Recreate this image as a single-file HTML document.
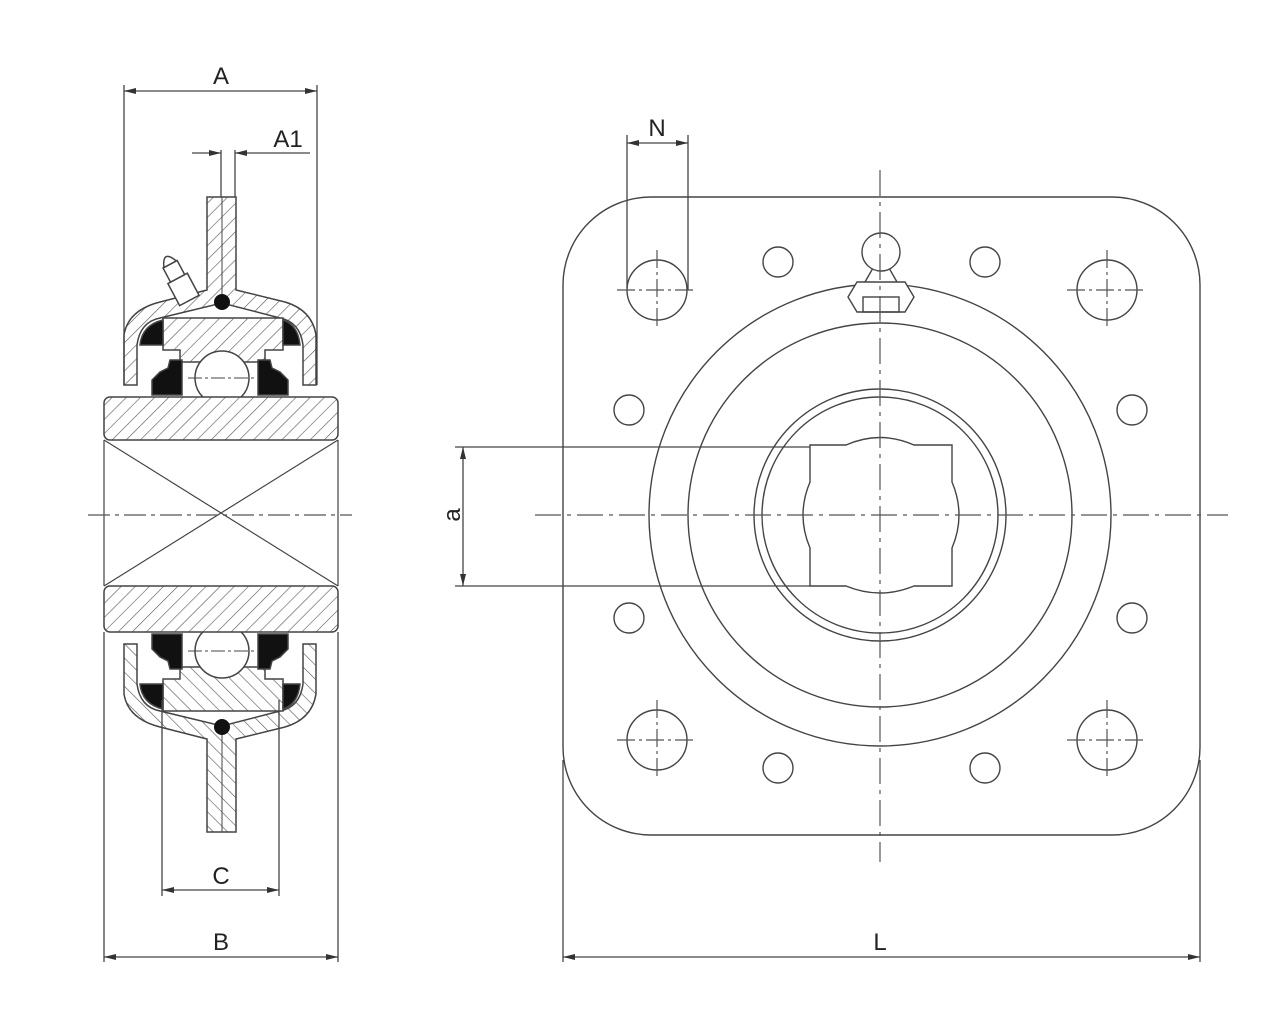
<!DOCTYPE html>
<html><head><meta charset="utf-8"><style>
html,body{margin:0;padding:0;background:#fff;}
svg{display:block}
text{font-family:"Liberation Sans",sans-serif;font-size:24px;fill:#222}
</style></head><body>
<svg width="1280" height="1024" viewBox="0 0 1280 1024" xmlns="http://www.w3.org/2000/svg">
<defs>
<pattern id="h" patternUnits="userSpaceOnUse" width="10" height="10" patternTransform="rotate(45)">
<rect width="10" height="10" fill="#fff"/><line x1="0" y1="0" x2="0" y2="10" stroke="#555" stroke-width="1.2"/>
</pattern>
<marker id="ar" markerWidth="12" markerHeight="6" refX="12" refY="3" orient="auto" markerUnits="userSpaceOnUse">
<path d="M0,0 L12,3 L0,6 Z" fill="#333"/></marker>
<g id="half" stroke="#444" stroke-width="1.5">
<path fill="url(#h)" fill-rule="evenodd" d="M124,385 L124,335 Q128,310 160,302 L207,290 L207,197 L236,197 L236,290 L285,302 Q312,310 316,335 L316,385 L303,385 L303,345 Q300,322 280,318 L222,303 L160,318 Q140,322 137,345 L137,385 Z"/>
<line x1="222" y1="197" x2="222" y2="300" stroke-width="1"/>
<path fill="url(#h)" d="M163,318 L283,318 L283,350 L265,350 L265,362 L180,362 L180,350 L163,350 Z"/>
<path fill="#111" d="M140,345 Q142,325 163,320 L163,345 Z"/>
<path fill="#111" d="M300,345 Q298,325 283,320 L283,345 Z"/>
<path fill="#111" d="M152,395 L152,380 L160,372 L168,368 L170,360 L182,360 L182,395 Z"/>
<path fill="#111" d="M288,395 L288,380 L280,372 L272,368 L270,360 L258,360 L258,395 Z"/>
<circle cx="222" cy="378" r="27" fill="#fff"/>
<line x1="188" y1="378" x2="256" y2="378" stroke-width="1" stroke-dasharray="14,3,3,3"/>
<circle cx="222" cy="302" r="8" fill="#111" stroke="none"/>
</g>
</defs>

<use href="#half"/>
<use href="#half" transform="translate(0,1029) scale(1,-1)"/>
<g stroke="#444" stroke-width="1.5" fill="#fff" transform="rotate(-28 180 285)">
<rect x="170" y="278" width="22" height="25"/>
<rect x="173" y="262" width="16" height="16"/>
<path d="M174,262 Q181,245 188,262 Z"/>
</g>
<rect x="104" y="397" width="234" height="43" rx="6" fill="url(#h)" stroke="#444" stroke-width="1.5"/>
<rect x="104" y="586" width="234" height="46" rx="6" fill="url(#h)" stroke="#444" stroke-width="1.5"/>
<g stroke="#444" stroke-width="1.2" fill="none">
<line x1="104" y1="440" x2="104" y2="586"/><line x1="338" y1="440" x2="338" y2="586"/>
<line x1="104" y1="440" x2="338" y2="586"/><line x1="338" y1="440" x2="104" y2="586"/>
</g>
<line x1="88" y1="515" x2="352" y2="515" stroke="#555" stroke-width="1.2" stroke-dasharray="22,5,4,5"/>

<g stroke="#444" stroke-width="1.3" fill="none">
<line x1="124" y1="85" x2="124" y2="385"/><line x1="317" y1="85" x2="317" y2="385"/>
<line x1="221" y1="150" x2="221" y2="197"/><line x1="235" y1="150" x2="235" y2="197"/>
<line x1="192" y1="153" x2="221" y2="153" marker-end="url(#ar)"/>
<line x1="310" y1="153" x2="235" y2="153" marker-end="url(#ar)"/>
<line x1="104" y1="632" x2="104" y2="962"/><line x1="338" y1="632" x2="338" y2="962"/>
<line x1="221" y1="957" x2="104" y2="957" marker-end="url(#ar)"/><line x1="221" y1="957" x2="338" y2="957" marker-end="url(#ar)"/>
<line x1="162" y1="700" x2="162" y2="896"/><line x1="279" y1="700" x2="279" y2="896"/>
<line x1="221" y1="890" x2="162" y2="890" marker-end="url(#ar)"/><line x1="221" y1="890" x2="279" y2="890" marker-end="url(#ar)"/>
<line x1="221" y1="91" x2="124" y2="91" marker-end="url(#ar)"/><line x1="221" y1="91" x2="317" y2="91" marker-end="url(#ar)"/>
</g>
<text x="221" y="84" text-anchor="middle">A</text>
<text x="288" y="147" text-anchor="middle">A1</text>
<text x="221" y="884" text-anchor="middle">C</text>
<text x="221" y="950" text-anchor="middle">B</text>

<g stroke="#444" stroke-width="1.4" fill="none">
<rect x="563" y="197" width="637" height="638" rx="88"/>
<circle cx="880" cy="515" r="231"/>
<circle cx="880" cy="515" r="192"/>
<circle cx="880" cy="515" r="126"/>
<circle cx="880" cy="515" r="118"/>
<path d="M810,445 L846,445 Q880,430 914,445 L952,445 L952,482 Q966,515 952,548 L952,586 L914,586 Q880,600 846,586 L810,586 L810,548 Q796,515 810,482 Z"/>
<path d="M848,297 L857,282 L905,282 L914,297 L905,312 L857,312 Z" fill="#fff"/>
<rect x="863" y="297" width="36" height="15"/>
<line x1="865" y1="282" x2="873" y2="268"/><line x1="897" y1="282" x2="889" y2="268"/>
<circle cx="881" cy="252" r="19" fill="#fff"/>
<circle cx="778" cy="262" r="15"/><circle cx="985" cy="262" r="15"/>
<circle cx="629" cy="410" r="15"/><circle cx="1132" cy="410" r="15"/>
<circle cx="629" cy="618" r="15"/><circle cx="1132" cy="618" r="15"/>
<circle cx="778" cy="768" r="15"/><circle cx="985" cy="768" r="15"/>
<circle cx="657" cy="290" r="30"/><circle cx="1107" cy="290" r="30"/>
<circle cx="657" cy="740" r="30"/><circle cx="1107" cy="740" r="30"/>
</g>
<g stroke="#555" stroke-width="1.2" stroke-dasharray="18,4,3,4">
<path d="M617,290h80M657,250v80M1067,290h80M1107,250v80M617,740h80M657,700v80M1067,740h80M1107,700v80"/>
</g>
<line x1="535" y1="515" x2="1228" y2="515" stroke="#555" stroke-width="1.2" stroke-dasharray="26,6,4,6"/>
<line x1="880" y1="170" x2="880" y2="862" stroke="#555" stroke-width="1.2" stroke-dasharray="26,6,4,6"/>

<g stroke="#444" stroke-width="1.3" fill="none">
<line x1="627" y1="135" x2="627" y2="288"/><line x1="688" y1="135" x2="688" y2="290"/>
<line x1="657" y1="143" x2="627" y2="143" marker-end="url(#ar)"/><line x1="657" y1="143" x2="688" y2="143" marker-end="url(#ar)"/>
<line x1="455" y1="447" x2="810" y2="447"/><line x1="455" y1="586" x2="810" y2="586"/>
<line x1="463" y1="515" x2="463" y2="447" marker-end="url(#ar)"/><line x1="463" y1="515" x2="463" y2="586" marker-end="url(#ar)"/>
<line x1="563" y1="760" x2="563" y2="962"/><line x1="1200" y1="760" x2="1200" y2="962"/>
<line x1="880" y1="957" x2="563" y2="957" marker-end="url(#ar)"/><line x1="880" y1="957" x2="1200" y2="957" marker-end="url(#ar)"/>
</g>
<text x="657" y="136" text-anchor="middle">N</text>
<text x="0" y="0" text-anchor="middle" transform="translate(460,515) rotate(-90)">a</text>
<text x="880" y="950" text-anchor="middle">L</text>
</svg>
</body></html>
